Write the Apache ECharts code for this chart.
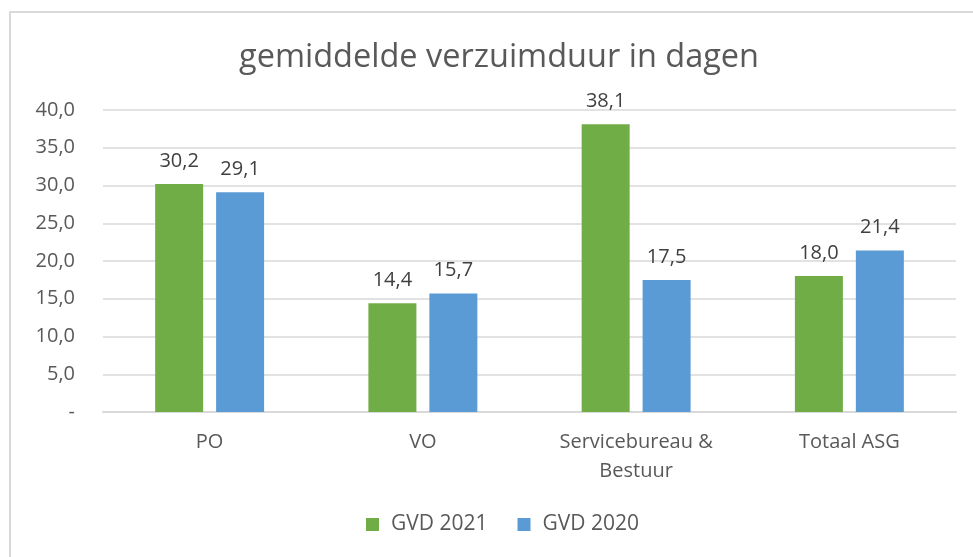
<!DOCTYPE html>
<html>
<head>
<meta charset="utf-8">
<script src="https://cdn.jsdelivr.net/npm/echarts@6/dist/echarts.min.js"></script>
<style>
  html, body { margin: 0; padding: 0; background: #fff; }
  #chart { width: 973px; height: 557px; }
</style>
</head>
<body>
<div id="chart"></div>
<script>
// data
const categories = ['PO', 'VO', 'Servicebureau &\nBestuur', 'Totaal ASG'];
const gvd2021 = [30.2, 14.4, 38.1, 18.0];
const gvd2020 = [29.1, 15.7, 17.5, 21.4];
const seriesNames = ['GVD 2021', 'GVD 2020'];

const fmt = v => v.toFixed(1).replace('.', ',');
const font = '"Open Sans", "Noto Sans", sans-serif';

const chart = echarts.init(document.getElementById('chart'));

const labelStyle = {
  show: true,
  position: 'top',
  distance: 13,
  color: '#404040',
  fontSize: 20,
  fontFamily: font,
  formatter: p => fmt(p.value)
};

chart.setOption({
  animation: false,
  title: {
    text: 'gemiddelde verzuimduur in dagen',
    left: 234,
    top: 36,
    textStyle: { color: '#595959', fontSize: 32.5, fontWeight: 'normal', fontFamily: font }
  },
  graphic: [{
    type: 'rect',
    shape: { x: 10, y: 12, width: 1000, height: 600 },
    style: { fill: 'none', stroke: '#d9d9d9', lineWidth: 2 },
    silent: true
  }],
  legend: {
    data: seriesNames,
    bottom: 17,
    left: 361,
    itemWidth: 13,
    itemHeight: 13,
    itemGap: 30,
    icon: 'rect',
    textStyle: { color: '#595959', fontSize: 21, fontFamily: font, padding: [0, 0, 0, 7] }
  },
  grid: { left: 103, right: 17, top: 110, bottom: 145 },
  xAxis: {
    type: 'category',
    data: categories,
    axisLine: { lineStyle: { color: '#d9d9d9', width: 2 } },
    axisTick: { show: false },
    axisLabel: { color: '#595959', fontSize: 20, fontFamily: font, margin: 16, lineHeight: 29 }
  },
  yAxis: {
    type: 'value',
    min: 0,
    max: 40,
    interval: 5,
    axisLine: { show: false },
    axisTick: { show: false },
    splitLine: { lineStyle: { color: '#d9d9d9', width: 1.5 } },
    axisLabel: {
      color: '#595959', fontSize: 20, fontFamily: font, margin: 28,
      formatter: v => v === 0 ? '-' : fmt(v)
    }
  },
  series: [
    {
      name: seriesNames[0],
      type: 'bar',
      data: gvd2021,
      barWidth: 48,
      barGap: '27%',
      itemStyle: { color: '#70AD47' },
      label: labelStyle
    },
    {
      name: seriesNames[1],
      type: 'bar',
      data: gvd2020,
      barWidth: 48,
      itemStyle: { color: '#5B9BD5' },
      label: labelStyle
    }
  ]
});
</script>
</body>
</html>
